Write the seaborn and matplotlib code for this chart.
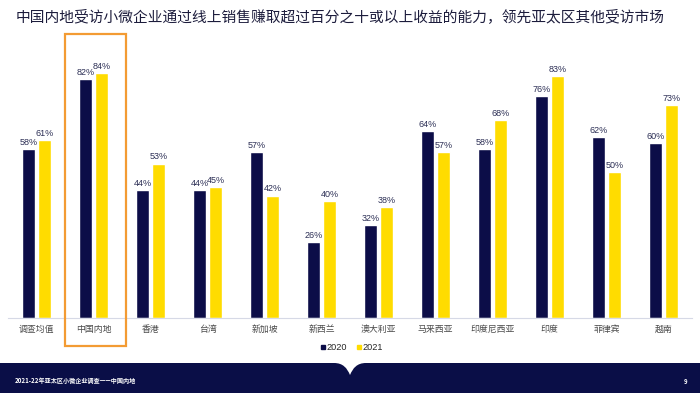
import matplotlib
matplotlib.use("Agg")
import matplotlib.pyplot as plt
import seaborn as sns
import pandas as pd
from matplotlib.patches import Rectangle, PathPatch
from matplotlib.path import Path
from matplotlib.lines import Line2D

categories = ['调查均值', '中国内地', '香港', '台湾', '新加坡', '新西兰', '澳大利亚',
              '马来西亚', '印度尼西亚', '印度', '菲律宾', '越南']
values_2020 = [58, 82, 44, 44, 57, 26, 32, 64, 58, 76, 62, 60]
values_2021 = [61, 84, 53, 45, 42, 40, 38, 57, 68, 83, 50, 73]
years = ['2020', '2021']

NAVY = '#0c0d48'
YELLOW = '#ffdc00'
BAND = '#0a0e47'
ORANGE = '#f39b33'

sns.set_theme(style='white')
plt.rcParams['font.family'] = ['Noto Sans CJK SC', 'DejaVu Sans']

df = pd.DataFrame({
    'cat': categories * 2,
    'year': [years[0]] * len(categories) + [years[1]] * len(categories),
    'val': values_2020 + values_2021,
})

W, H = 700, 393
fig = plt.figure(figsize=(W / 100, H / 100), dpi=100)
fig.patch.set_facecolor('white')

def fx(x):
    return x / W

def fy(y):
    return 1 - y / H

ax = fig.add_axes([fx(8), fy(318), fx(692) - fx(8), fy(26.5) - fy(318)])
sns.barplot(data=df, x='cat', y='val', hue='year', order=categories,
            hue_order=years, palette=[NAVY, YELLOW], width=0.56, gap=0.19,
            saturation=1, legend=False, ax=ax)
ax.set_xlim(-0.5, len(categories) - 0.5)
ax.set_ylim(0, 100)
ax.set_xlabel('')
ax.set_ylabel('')
ax.set_yticks([])
for s in ['left', 'right', 'top']:
    ax.spines[s].set_visible(False)
ax.spines['bottom'].set_color('#d6d9e6')
ax.spines['bottom'].set_linewidth(0.8)
ax.tick_params(axis='x', length=0, pad=5, labelsize=6.4, labelcolor='#4a4a4a')
ax.set_facecolor('white')

for cont in ax.containers:
    ax.bar_label(cont, fmt='%.0f%%', padding=1.5, fontsize=6.5, color='#2c2f55',
                 family=['Liberation Sans', 'DejaVu Sans'])

# legend
handles = [Line2D([], [], marker='s', linestyle='none', markersize=3.5,
                  markerfacecolor=c, markeredgecolor=c) for c in (NAVY, YELLOW)]
fig.legend(handles, years, loc='center', bbox_to_anchor=(fx(351), fy(348)),
           ncol=2, frameon=False, handletextpad=0.0,
           columnspacing=0.9, handlelength=0.8,
           prop={'family': ['Liberation Sans', 'DejaVu Sans'], 'size': 6.6})

# highlight box
fig.add_artist(Rectangle((fx(65), fy(346)), fx(126) - fx(65), fy(34) - fy(346),
                         transform=fig.transFigure, fill=False,
                         edgecolor=ORANGE, linewidth=1.6))

# title
fig.text(fx(16), fy(17), '中国内地受访小微企业通过线上销售赚取超过百分之十或以上收益的能力，领先亚太区其他受访市场',
         fontsize=10.6, color='#1c1c3c', va='center', ha='left')

# footer band with notch
verts = [(0, 393), (0, 363), (334, 363),
         (343, 363), (347, 368), (350, 375),
         (353, 368), (357, 363), (366, 363),
         (700, 363), (700, 393), (0, 393)]
codes = [Path.MOVETO, Path.LINETO, Path.LINETO,
         Path.CURVE4, Path.CURVE4, Path.CURVE4,
         Path.CURVE4, Path.CURVE4, Path.CURVE4,
         Path.LINETO, Path.LINETO, Path.CLOSEPOLY]
path = Path([(fx(a), fy(b)) for a, b in verts], codes)
fig.add_artist(PathPatch(path, transform=fig.transFigure, facecolor=BAND,
                         edgecolor='none'))

fig.text(fx(15), fy(381), '2021-22年亚太区小微企业调查——中国内地', fontsize=4.4,
         color='white', va='center', ha='left', fontweight='bold')
fig.text(fx(686), fy(381), '9', fontsize=4.4, color='white', va='center',
         ha='center', fontweight='bold')

fig.savefig('out.png', dpi=100, facecolor='white')
